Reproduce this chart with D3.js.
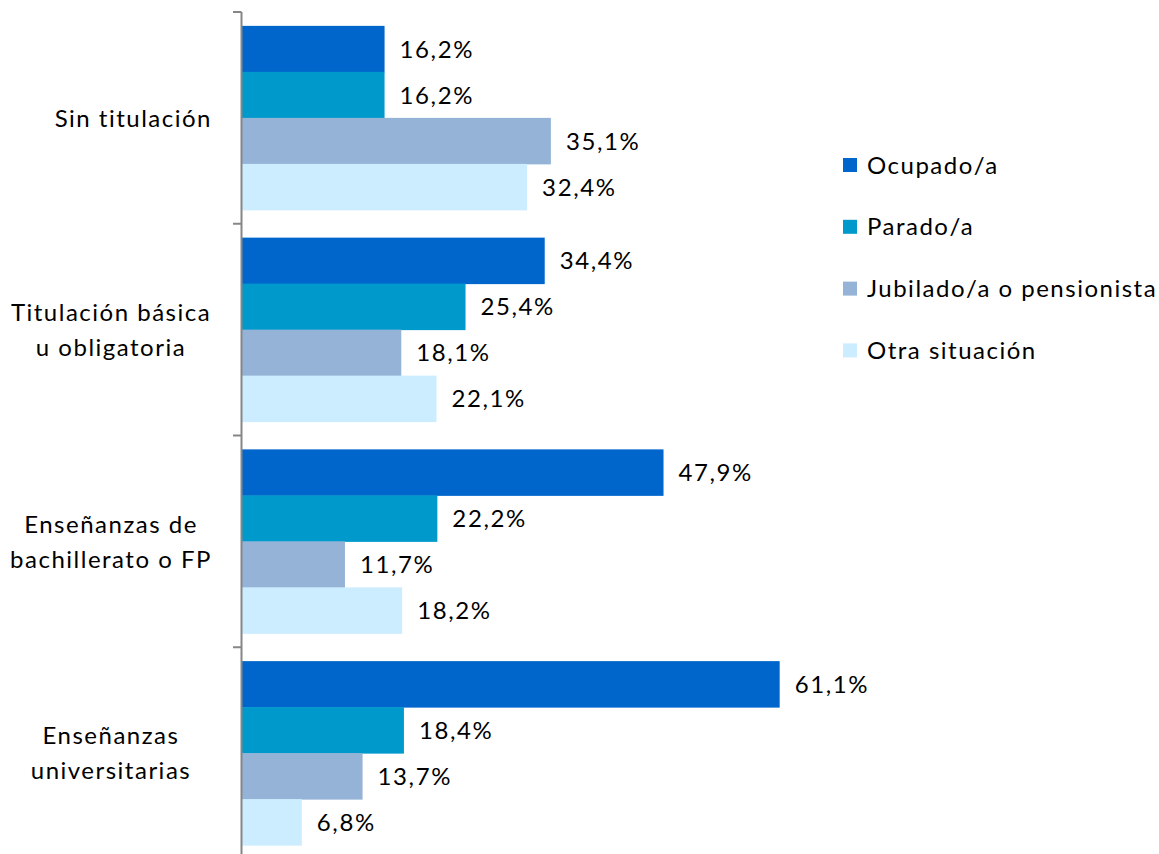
<!DOCTYPE html>
<html><head><meta charset="utf-8">
<script src="https://cdn.jsdelivr.net/npm/d3@7"></script>
<style>body{margin:0;background:#fff}svg{display:block}text{font-family:Lato,"Open Sans",sans-serif;fill:#000}</style>
</head><body><svg id="c" width="1159" height="854"></svg>
<script>
const categories = [["Sin titulación"],["Titulación básica","u obligatoria"],["Enseñanzas de","bachillerato o FP"],["Enseñanzas","universitarias"]];
const series = ["Ocupado/a","Parado/a","Jubilado/a o pensionista","Otra situación"];
const colors = ["#0066CC","#0099CC","#95B3D7","#CCECFF"];
const values = [
  [16.2,16.2,35.1,32.4],
  [34.4,25.4,18.1,22.1],
  [47.9,22.2,11.7,18.2],
  [61.1,18.4,13.7,6.8]
];
const fmt = v => d3.format(".1f")(v).replace(".", ",") + "%";

const svg = d3.select("#c");
const catKeys = categories.map((c,i)=>i);
const y0 = d3.scaleBand().domain(catKeys).range([12, 859]).paddingInner(0.131).paddingOuter(0.0655);
const y1 = d3.scaleBand().domain(series).range([0, y0.bandwidth()]);
const x = d3.scaleLinear().domain([0,100]).range([242,1122]);
const step = y0.step();

// bars
const g = svg.selectAll("g.grp").data(values).join("g")
  .attr("transform",(d,i)=>`translate(0,${y0(i)})`);
g.selectAll("rect").data(d=>d.map((v,j)=>({v,s:series[j],j}))).join("rect")
  .attr("x", x(0)).attr("y", d=>y1(d.s)).attr("width", d=>x(d.v)-x(0))
  .attr("height", y1.bandwidth()+0.5).attr("fill", d=>colors[d.j]);
g.selectAll("text").data(d=>d.map((v,j)=>({v,s:series[j],j}))).join("text")
  .attr("x", d=>x(d.v)+15).attr("y", d=>y1(d.s)+y1.bandwidth()/2)
  .attr("dy","0.36em").style("font-size","24px").style("letter-spacing","1.6px")
  .text(d=>fmt(d.v));

// axis
const axisX = 241.5;
svg.append("line").attr("x1",axisX).attr("x2",axisX).attr("y1",12).attr("y2",854)
  .attr("stroke","#868686").attr("stroke-width",2);
const tickYs = d3.range(categories.length+1).map(i=>12+i*step);
svg.selectAll("line.tk").data(tickYs).join("line").attr("class","tk")
  .attr("x1",233).attr("x2",axisX).attr("y1",d=>d).attr("y2",d=>d)
  .attr("stroke","#868686").attr("stroke-width",2);

// category labels
categories.forEach((lines,i)=>{
  const cy = 12 + i*step + step/2;
  const lh = 35;
  const t = svg.append("text").style("font-size","24px").style("letter-spacing","1.5px");
  lines.forEach((ln,k)=>{
    t.append("tspan").attr("y", cy + (k-(lines.length-1)/2)*lh).attr("dy","0.36em").text(ln);
  });
  if(lines.length>1){ t.attr("text-anchor","middle").selectAll("tspan").attr("x",111); }
  else { t.attr("text-anchor","end").selectAll("tspan").attr("x",212); }
});

// legend
const leg = svg.selectAll("g.leg").data(series).join("g").attr("class","leg")
  .attr("transform",(d,i)=>`translate(843,${165+i*61.8})`);
leg.append("rect").attr("x",0).attr("y",-7).attr("width",14).attr("height",14).attr("fill",(d,i)=>colors[i]);
leg.append("text").attr("x",24).attr("y",0).attr("dy","0.36em").style("font-size","24px").style("letter-spacing","1.5px").text(d=>d);
</script></body></html>
